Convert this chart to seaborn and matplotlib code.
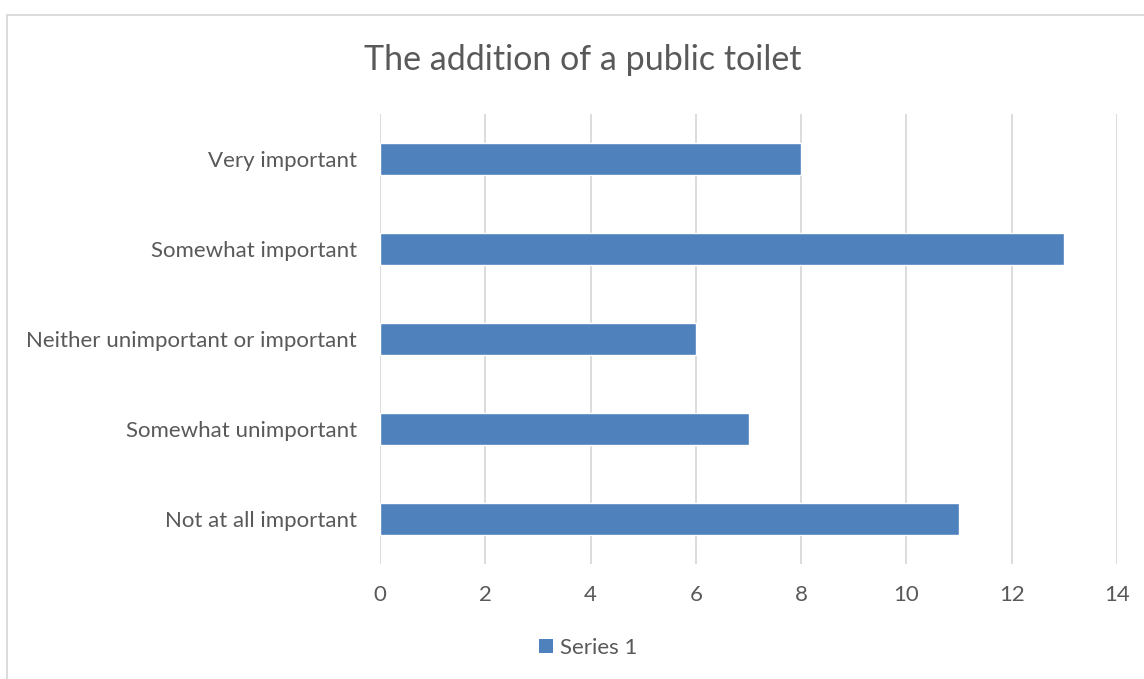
import matplotlib
matplotlib.use("Agg")
import matplotlib.pyplot as plt
import seaborn as sns
import pandas as pd
from matplotlib.patches import Rectangle, Patch

categories = ["Very important", "Somewhat important", "Neither unimportant or important",
              "Somewhat unimportant", "Not at all important"]
values = [8, 13, 6, 7, 11]
xticks = [0, 2, 4, 6, 8, 10, 12, 14]
title = "The addition of a public toilet"
series_name = "Series 1"

sns.set_theme(style="white")
plt.rcParams['font.family'] = ['Lato', 'DejaVu Sans']
text_color = "#595959"
bar_color = "#4F81BD"
grid_color = "#D9D9D9"

fig = plt.figure(figsize=(11.44, 6.79), dpi=100)
ax = fig.add_axes([380/1144, 1-564/679, (1117-380)/1144, (564-114)/679])

df = pd.DataFrame({"cat": categories, "val": values})
sns.barplot(data=df, x="val", y="cat", orient="h", color=bar_color, width=0.355,
            saturation=1, ax=ax, zorder=3)

ax.set_xlim(0, 14)
ax.set_xticks(xticks)
ax.set_xticklabels([str(t) for t in xticks])
ax.set_ylim(4.5, -0.5)
ax.set_xlabel("")
ax.set_ylabel("")
for s in ax.spines.values():
    s.set_visible(False)
ax.grid(axis="x", color=grid_color, linewidth=1.3, zorder=0)
ax.grid(axis="y", visible=False)
ax.tick_params(axis="x", length=0, pad=15, labelsize=16, labelcolor=text_color)
ax.tick_params(axis="y", length=0, pad=16.5, labelsize=16, labelcolor=text_color)

fig.text(583/1144, 1-60/679, title, ha="center", va="center", fontsize=24.5, color=text_color)

handles = [Patch(facecolor=bar_color, edgecolor="none", label=series_name)]
fig.legend(handles=handles, loc="center", bbox_to_anchor=(588/1144, 1-648/679), frameon=False,
           fontsize=16, labelcolor=text_color, handlelength=0.62, handleheight=0.62,
           handletextpad=0.3)

# chart border (extends off the image on the right and bottom)
fig.patches.append(Rectangle((7/1144, -0.05), 1.2, 1-15/679+0.05, transform=fig.transFigure,
                             fill=False, edgecolor="#D9D9D9", linewidth=1.3))

fig.savefig("out.png", dpi=100)
